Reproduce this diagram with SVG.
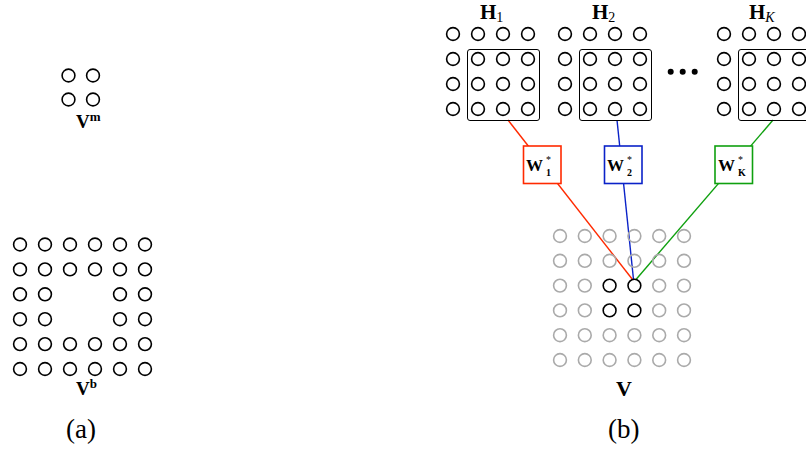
<svg xmlns="http://www.w3.org/2000/svg" width="806" height="449" viewBox="0 0 806 449">
<style>
.c{fill:none;stroke:#000;stroke-width:1.6}
.g{fill:none;stroke:#aaa;stroke-width:1.6}
.frame{fill:none;stroke:#000;stroke-width:1}
.b{font-family:"Liberation Serif",serif;font-weight:bold;fill:#000}
.n{font-family:"Liberation Serif",serif;font-weight:normal;fill:#000}
.wbox{fill:#fff;stroke-width:1.6}
.cap{font-family:"Liberation Serif",serif;font-size:27px;fill:#000}
.ln{fill:none;stroke-width:1.4}
</style>
<defs>
<circle id="o" r="6.4" class="c"/>
<circle id="og" r="6.4" class="g"/>
<g id="h4">
<use href="#o" x="0" y="0"/><use href="#o" x="25" y="0"/><use href="#o" x="50" y="0"/><use href="#o" x="75" y="0"/>
</g>
<g id="hgrid">
<use href="#h4" y="0"/><use href="#h4" y="25"/><use href="#h4" y="50"/><use href="#h4" y="75"/>
</g>
</defs>
<rect width="806" height="449" fill="#fff"/>

<g id="connectors">
<line class="ln" stroke="#ff2a00" x1="508" y1="120" x2="632.5" y2="279.5"/>
<line class="ln" stroke="#0a22c8" x1="617" y1="120" x2="633.5" y2="279.5"/>
<line class="ln" stroke="#0fa00f" x1="773" y1="120" x2="636" y2="279.5"/>
</g>

<g id="Vm">
<use href="#o" x="68.5" y="75.5"/><use href="#o" x="93" y="75.5"/>
<use href="#o" x="68.5" y="99.5"/><use href="#o" x="93" y="99.5"/>
<text class="b" x="76" y="128" font-size="19">V<tspan font-size="13" dy="-7">m</tspan></text>
</g>

<g id="Vb">
<g transform="translate(20,244.5)">
<use href="#o" x="0" y="0"/><use href="#o" x="25" y="0"/><use href="#o" x="50" y="0"/><use href="#o" x="75" y="0"/><use href="#o" x="100" y="0"/><use href="#o" x="125" y="0"/>
<use href="#o" x="0" y="24.9"/><use href="#o" x="25" y="24.9"/><use href="#o" x="50" y="24.9"/><use href="#o" x="75" y="24.9"/><use href="#o" x="100" y="24.9"/><use href="#o" x="125" y="24.9"/>
<use href="#o" x="0" y="49.8"/><use href="#o" x="25" y="49.8"/><use href="#o" x="100" y="49.8"/><use href="#o" x="125" y="49.8"/>
<use href="#o" x="0" y="74.7"/><use href="#o" x="25" y="74.7"/><use href="#o" x="100" y="74.7"/><use href="#o" x="125" y="74.7"/>
<use href="#o" x="0" y="99.6"/><use href="#o" x="25" y="99.6"/><use href="#o" x="50" y="99.6"/><use href="#o" x="75" y="99.6"/><use href="#o" x="100" y="99.6"/><use href="#o" x="125" y="99.6"/>
<use href="#o" x="0" y="124.5"/><use href="#o" x="25" y="124.5"/><use href="#o" x="50" y="124.5"/><use href="#o" x="75" y="124.5"/><use href="#o" x="100" y="124.5"/><use href="#o" x="125" y="124.5"/>
</g>
<text class="b" x="76" y="395" font-size="19">V<tspan font-size="13" dy="-7">b</tspan></text>
</g>

<g id="H1">
<use href="#hgrid" x="453" y="34"/>
<rect class="frame" x="467.5" y="49.5" width="72" height="71" rx="2.5"/>
<text class="b" x="480" y="18.5" font-size="21">H<tspan class="n" font-size="14" dy="3">1</tspan></text>
</g>

<g id="H2">
<use href="#hgrid" x="565" y="34"/>
<rect class="frame" x="579.5" y="49.5" width="72" height="71" rx="2.5"/>
<text class="b" x="592" y="18.5" font-size="21">H<tspan class="n" font-size="14" dy="3">2</tspan></text>
</g>

<g id="dots">
<circle cx="670.7" cy="71.7" r="3"/><circle cx="682.7" cy="71.7" r="3"/><circle cx="694.7" cy="71.7" r="3"/>
</g>

<g id="HK">
<use href="#hgrid" x="724" y="34"/>
<rect class="frame" x="738.5" y="49.5" width="72" height="71" rx="2.5"/>
<text class="b" x="749" y="18.5" font-size="21">H<tspan class="n" font-size="14" font-style="italic" dy="3">K</tspan></text>
</g>

<g id="W1">
<rect class="wbox" stroke="#ff2a00" x="523.5" y="146" width="37.5" height="37.5"/>
<text class="b" x="526" y="171" font-size="17">W</text>
<text class="n" x="546" y="163" font-size="10">*</text>
<text class="b" x="546" y="176" font-size="10">1</text>
</g>

<g id="W2">
<rect class="wbox" stroke="#0a22c8" x="604.5" y="146" width="37.5" height="37.5"/>
<text class="b" x="607" y="171" font-size="17">W</text>
<text class="n" x="627" y="163" font-size="10">*</text>
<text class="b" x="627" y="176" font-size="10">2</text>
</g>

<g id="WK">
<rect class="wbox" stroke="#0fa00f" x="715" y="146" width="37.5" height="37.5"/>
<text class="b" x="718" y="171" font-size="17">W</text>
<text class="n" x="738" y="163" font-size="10">*</text>
<text class="b" x="738" y="176" font-size="10">K</text>
</g>

<g id="V">
<g transform="translate(560,236)">
<use href="#og" x="0" y="0"/><use href="#og" x="24.8" y="0"/><use href="#og" x="49.6" y="0"/><use href="#og" x="74.4" y="0"/><use href="#og" x="99.2" y="0"/><use href="#og" x="124" y="0"/>
<use href="#og" x="0" y="24.8"/><use href="#og" x="24.8" y="24.8"/><use href="#og" x="49.6" y="24.8"/><use href="#og" x="74.4" y="24.8"/><use href="#og" x="99.2" y="24.8"/><use href="#og" x="124" y="24.8"/>
<use href="#og" x="0" y="49.6"/><use href="#og" x="24.8" y="49.6"/><use href="#o" x="49.6" y="49.6"/><use href="#o" x="74.4" y="49.6"/><use href="#og" x="99.2" y="49.6"/><use href="#og" x="124" y="49.6"/>
<use href="#og" x="0" y="74.4"/><use href="#og" x="24.8" y="74.4"/><use href="#o" x="49.6" y="74.4"/><use href="#o" x="74.4" y="74.4"/><use href="#og" x="99.2" y="74.4"/><use href="#og" x="124" y="74.4"/>
<use href="#og" x="0" y="99.2"/><use href="#og" x="24.8" y="99.2"/><use href="#og" x="49.6" y="99.2"/><use href="#og" x="74.4" y="99.2"/><use href="#og" x="99.2" y="99.2"/><use href="#og" x="124" y="99.2"/>
<use href="#og" x="0" y="124"/><use href="#og" x="24.8" y="124"/><use href="#og" x="49.6" y="124"/><use href="#og" x="74.4" y="124"/><use href="#og" x="99.2" y="124"/><use href="#og" x="124" y="124"/>
</g>
<text class="b" x="616" y="396" font-size="22">V</text>
</g>

<g id="captions">
<text class="cap" x="66" y="438">(a)</text>
<text class="cap" x="608" y="438">(b)</text>
</g>
</svg>
